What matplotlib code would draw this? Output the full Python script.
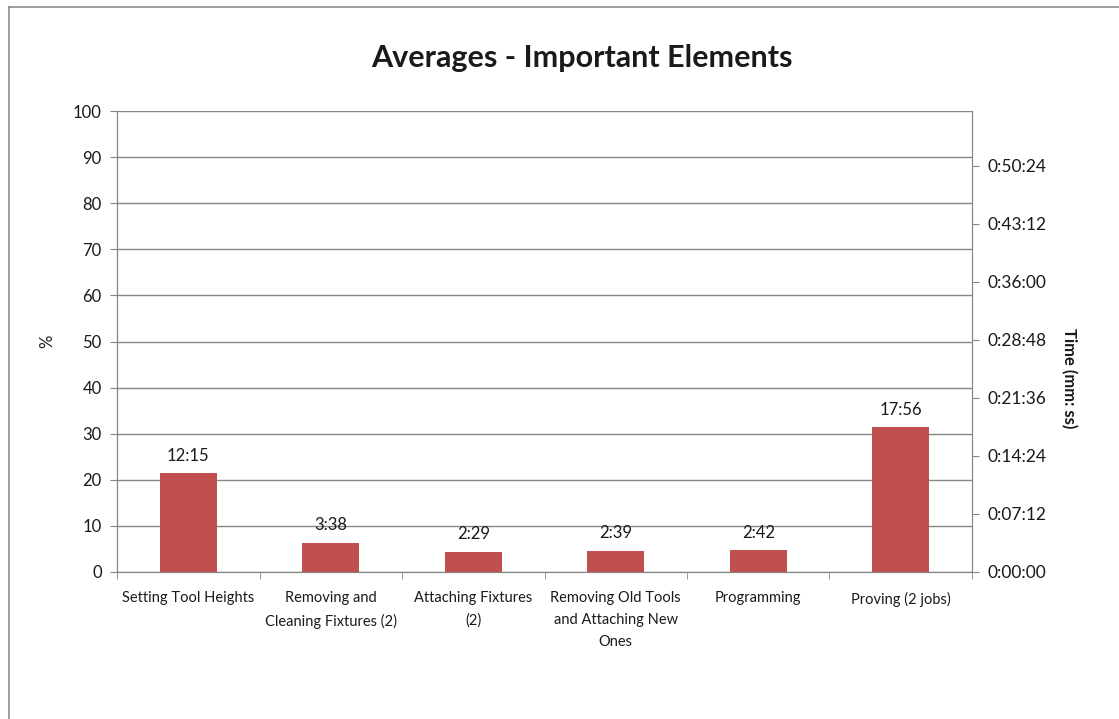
import matplotlib
matplotlib.use("Agg")
import matplotlib.pyplot as plt
from matplotlib.lines import Line2D
from matplotlib.ticker import FuncFormatter, MultipleLocator, FixedLocator

plt.rcParams['font.family'] = ['Lato', 'DejaVu Sans']

# Data: average time per element (seconds)
categories = ["Setting Tool Heights", "Removing and\nCleaning Fixtures (2)",
              "Attaching Fixtures\n(2)", "Removing Old Tools\nand Attaching New\nOnes",
              "Programming", "Proving (2 jobs)"]
times_sec = [735, 218, 149, 159, 162, 1076]

bar_color = "#C0504D"
axis_grey = "#868686"
text_col = "#1a1a1a"

def fmt_mmss(s):
    return "%d:%02d" % (s // 60, s % 60)

def fmt_hms(v, pos=None):
    v = int(round(v))
    return "%d:%02d:%02d" % (v // 3600, (v % 3600) // 60, v % 60)

fig = plt.figure(figsize=(11.19, 7.19), dpi=100)
fig.patch.set_facecolor("white")

# chart frame (left & top edges)
fig.add_artist(Line2D([9/1119, 9/1119], [0, 1 - 7/719], transform=fig.transFigure,
                      color="#8c8c8c", lw=1.2))
fig.add_artist(Line2D([9/1119, 1], [1 - 7/719, 1 - 7/719], transform=fig.transFigure,
                      color="#8c8c8c", lw=1.2))

ax = fig.add_axes([117/1119, 1 - 572/719, (972 - 117)/1119, (572 - 111)/719])
ax2 = ax.twinx()

x = list(range(len(categories)))

# left axis: percent with gridlines
ax.set_ylim(0, 100)
ax.yaxis.set_major_locator(MultipleLocator(10))
ax.grid(axis="y", color=axis_grey, lw=1)
ax.set_axisbelow(True)
ax.set_xlim(-0.5, len(categories) - 0.5)
ax.set_xticks(x)
ax.set_xticklabels(categories, fontsize=10.5, linespacing=1.7, color=text_col)
ax.xaxis.set_minor_locator(FixedLocator([i - 0.5 for i in range(len(categories) + 1)]))
ax.tick_params(axis="x", which="major", length=0, pad=14)
ax.tick_params(axis="x", which="minor", length=5, color=axis_grey, direction="out")
ax.tick_params(axis="y", length=5, color=axis_grey, labelsize=12, pad=6, labelcolor=text_col)

# right axis: time
ax2.bar(x, times_sec, width=0.4, color=bar_color, zorder=3)
ax2.set_ylim(0, 3432)
ax2.yaxis.set_major_locator(MultipleLocator(432))
ax2.yaxis.set_major_formatter(FuncFormatter(fmt_hms))
ax2.tick_params(axis="y", length=5, color=axis_grey, labelsize=12.5, pad=6, labelcolor=text_col)

for xi, t in zip(x, times_sec):
    ax2.annotate(fmt_mmss(t), (xi, t), xytext=(0, 7), textcoords="offset points",
                 ha="center", va="bottom", fontsize=12, color=text_col)

for a in (ax, ax2):
    for side in ("left", "right", "bottom"):
        a.spines[side].set_color(axis_grey)
    a.spines["top"].set_visible(False)

# axis titles
fig.text(47/1119, 1 - 341/719, "%", rotation=90, ha="center", va="center",
         fontsize=12, color=text_col)
fig.text(1069/1119, 1 - 378/719, "Time (mm: ss)", rotation=270, ha="center", va="center",
         fontsize=12, fontweight="bold", color=text_col)

fig.text(582/1119, 1 - 58/719, "Averages - Important Elements", ha="center", va="center",
         fontsize=22, fontweight="bold", color=text_col)

fig.savefig("out.png", dpi=100)
